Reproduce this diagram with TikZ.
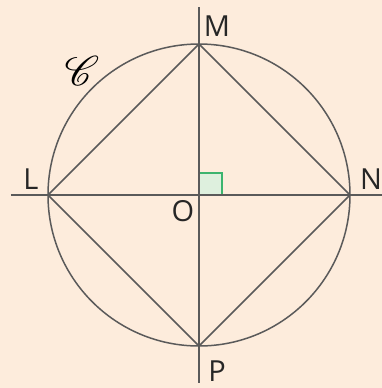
\documentclass[tikz,border=0pt]{standalone}
\usepackage{fontspec}
\usepackage{mathrsfs}
\setmainfont{Open Sans}
\definecolor{bg}{RGB}{253,236,220}
\definecolor{ln}{RGB}{90,90,90}
\definecolor{sqd}{RGB}{60,180,110}
\definecolor{sqf}{RGB}{222,240,222}
\begin{document}
\begin{tikzpicture}[x=0.5pt,y=-0.5pt,
  geo/.style={draw=ln,line width=0.75pt},
  lab/.style={font=\fontsize{14.5}{16}\selectfont,text=black!85,inner sep=0pt}]
\fill[bg] (0,0) rectangle (382,388);
\useasboundingbox (0,0) rectangle (382,388);
\coordinate (O) at (199,195);
\coordinate (L) at (48,195);
\coordinate (N) at (350,195);
\coordinate (M) at (199,44);
\coordinate (P) at (199,346);
\coordinate (hl) at (11,195);
\coordinate (hr) at (382,195);
\coordinate (vt) at (199,7);
\coordinate (vb) at (199,383);
\filldraw[fill=sqf,draw=sqd,line width=0.6pt] (O) rectangle (222,173);
\draw[geo] (O) circle[radius=151];
\draw[geo] (hl) -- (hr);
\draw[geo] (vt) -- (vb);
\draw[geo] (M) -- (N) -- (P) -- (L) -- cycle;
\node[lab] (lM) at (217,26) {M};
\node[lab] (lL) at (31,179) {L};
\node[lab] (lO) at (183,211) {O};
\node[lab] (lN) at (371,179) {N};
\node[lab] (lP) at (217,371) {P};
\node[inner sep=0pt] (lC) at (82,71) {\fontsize{21}{22}\selectfont$\mathscr{C}$};
\end{tikzpicture}
\end{document}
